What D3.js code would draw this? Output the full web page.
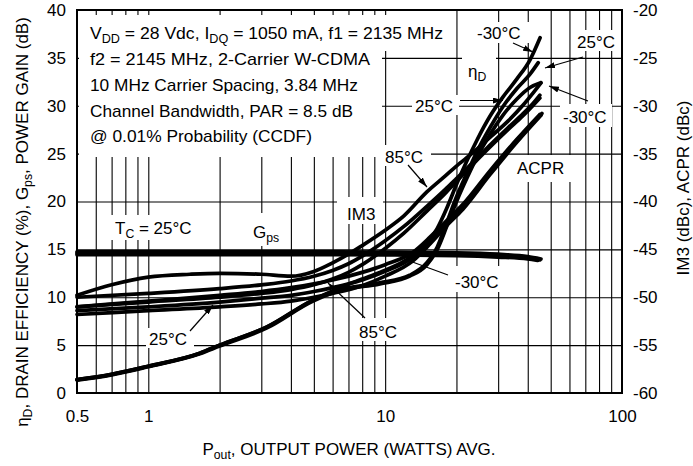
<!DOCTYPE html>
<html><head><meta charset="utf-8">
<script src="https://cdn.jsdelivr.net/npm/d3@7"></script>
<style>
html,body{margin:0;padding:0;background:#fff;}
svg{display:block;font-family:"Liberation Sans",Arial,Helvetica,sans-serif;}
</style></head><body>
<svg id="chart" width="693" height="466"></svg>
<script>
// ---------------- DATA ----------------
const xTickLabels = [0.5, 1, 10, 100];
const xGridValues = [0.6,0.7,0.8,0.9,1,2,3,4,5,6,7,8,9,10,20,30,40,50,60,70,80,90];
const leftTicks = [0,5,10,15,20,25,30,35,40];
const rightTicks = [-60,-55,-50,-45,-40,-35,-30,-25,-20];

// Power gain Gps (dB, left axis)
const gpsM30 = [[0.5,14.75],[1,14.75],[2,14.75],[5,14.75],[10,14.72],[20,14.65],[30,14.5],[40,14.25],[45.5,14.0]];
const gps25  = [[0.5,14.6],[1,14.6],[2,14.6],[5,14.6],[10,14.58],[20,14.5],[30,14.35],[40,14.1],[45,13.9]];
const gps85  = [[0.5,14.45],[1,14.45],[2,14.45],[5,14.45],[10,14.42],[20,14.35],[30,14.2],[40,14.0],[44,13.85]];

// Drain efficiency (%, left axis)
const etaM30 = [[0.5,1.4],[0.7,1.95],[1,2.8],[1.65,4.15],[2,5.0],[3.17,6.9],[4.96,9.7],[6.44,11.0],[8,11.9],[9.5,12.6],[12.3,13.9],[15,15.6],[16.6,17.2],[18.2,19.3],[20.1,21.9],[22.2,24.3],[24.4,26.4],[27.7,28.9],[31.4,30.9],[36,32.8],[40.9,34.8],[45.1,37.1]];
const eta25  = [[0.5,1.4],[0.7,1.95],[1,2.8],[1.65,4.15],[2,5.0],[3.17,6.9],[4.96,9.7],[6.44,10.8],[9.5,11.5],[12.7,12.3],[15,13.6],[16.6,15.25],[18.2,17.8],[20.1,20.6],[22.2,23.0],[24.4,25.2],[27.7,27.7],[31.4,29.9],[36,31.8],[40.9,33.3],[44.3,34.5]];
const eta85  = [[0.5,1.35],[0.7,1.9],[1,2.75],[1.65,4.1],[2,4.9],[3.17,6.8],[4.96,9.6],[6.44,10.7],[9.5,11.4],[12.7,12.2],[15,13.4],[16.6,15.0],[18.2,17.4],[20.1,20.1],[22.2,22.5],[24.4,24.6],[27.7,27.0],[31.4,29.0],[36,30.7],[40.9,31.9],[45.4,32.4]];

// IM3 (dBc, right axis)
const im3_85  = [[0.5,-49.8],[0.7,-48.7],[1,-47.9],[1.5,-47.6],[2,-47.5],[3,-47.6],[4,-47.8],[5,-47.3],[6,-46.4],[7,-45.5],[8,-44.6],[10,-43.0],[12,-41.5],[15,-39.0],[18,-37.3],[20,-36.3],[23.5,-34.9],[28,-33.2],[33,-31.6],[38,-30.0],[42,-28.7],[45.5,-27.6]];
const im3_25  = [[0.5,-50.0],[1,-49.6],[2,-49.1],[3,-48.7],[4,-48.3],[5,-47.8],[6,-47.2],[7,-46.5],[8,-45.7],[10,-44.1],[12,-42.6],[15,-40.5],[18,-38.7],[20,-37.6],[23.5,-35.9],[28,-34.0],[33,-32.3],[38,-30.9],[42,-29.8],[45,-28.9]];
const im3_m30 = [[0.5,-51.0],[1,-50.5],[2,-50.0],[3,-49.6],[4,-49.2],[5,-48.7],[6,-48.1],[7,-47.4],[8,-46.6],[10,-44.9],[12,-43.3],[15,-41.0],[18,-39.1],[20,-37.9],[23.5,-36.1],[28,-34.2],[33,-32.5],[38,-31.1],[42,-30.0],[45,-29.2]];

// ACPR (dBc, right axis)
const acpr85  = [[0.5,-51.0],[1,-50.4],[2,-49.8],[3,-49.4],[4,-49.0],[5,-48.6],[6,-48.2],[8,-47.4],[10,-46.6],[13.1,-45.3],[15.5,-43.7],[18.2,-42.0],[21.3,-40.3],[27.7,-36.8],[36,-33.5],[45,-30.9]];
const acpr25  = [[0.5,-51.4],[1,-51.0],[2,-50.5],[3,-50.1],[4,-49.8],[5,-49.4],[6,-49.0],[8,-48.2],[10,-47.3],[13.1,-45.8],[15.5,-44.0],[18.2,-42.2],[21.3,-40.6],[27.7,-37.0],[36,-33.6],[45.9,-30.8]];
const acprM30 = [[0.5,-51.8],[1,-51.4],[2,-51.0],[3,-50.7],[4,-50.4],[5,-50.0],[6,-49.6],[8,-48.8],[10,-47.8],[13.1,-46.2],[15.5,-44.4],[18.2,-42.5],[21.3,-40.8],[27.7,-37.2],[36,-33.8],[45.5,-31.0]];

const leftSeries  = [gpsM30, gps25, gps85, etaM30, eta25, eta85];
const rightSeries = [im3_85, im3_25, im3_m30, acpr85, acpr25, acprM30];

// ---------------- LAYOUT ----------------
const L = 77, R = 622, T = 10, B = 393;
const svg = d3.select("#chart");
svg.append("rect").attr("width",693).attr("height",466).attr("fill","#fff");

const x  = d3.scaleLog().domain([0.5,100]).range([L,R]);
const yL = d3.scaleLinear().domain([0,40]).range([B,T]);
const yR = d3.scaleLinear().domain([-60,-20]).range([B,T]);

// grid
svg.append("g").attr("transform",`translate(0,${B})`)
  .call(d3.axisBottom(x).tickValues(xGridValues).tickSize(-(B-T)).tickFormat(""))
  .call(g=>{g.select(".domain").remove(); g.selectAll("line").attr("stroke","#000").attr("stroke-width",1.1);});
svg.append("g").attr("transform",`translate(${L},0)`)
  .call(d3.axisLeft(yL).tickValues([5,10,15,20,25,30,35]).tickSize(-(R-L)).tickFormat(""))
  .call(g=>{g.select(".domain").remove(); g.selectAll("line").attr("stroke","#000").attr("stroke-width",1.1);});

// white label backgrounds (hide grid)
const masks = [
  [79,15,303,142],[382,15,68,36],
  [474,22,57,21],[574,30,47,21],[462,56,34,31],[412,95,47,20],[560,104,52,23],
  [382,145,49,21],[514,155,62,27],[337,197,46,27],[110,215,90,25],[250,213,36,33],
  [452,266,58,26],[356,318,48,23],[146,328,48,20]
];
svg.append("g").selectAll("rect").data(masks).join("rect")
  .attr("x",d=>d[0]).attr("y",d=>d[1]).attr("width",d=>d[2]).attr("height",d=>d[3]).attr("fill","#fff");

// frame
svg.append("rect").attr("x",L).attr("y",T).attr("width",R-L).attr("height",B-T)
  .attr("fill","none").attr("stroke","#000").attr("stroke-width",2);

// curves
const lineL = d3.line().x(d=>x(d[0])).y(d=>yL(d[1])).curve(d3.curveMonotoneX);
const lineR = d3.line().x(d=>x(d[0])).y(d=>yR(d[1])).curve(d3.curveMonotoneX);
const cg = svg.append("g").attr("fill","none").attr("stroke","#000").attr("stroke-width",3.7)
  .attr("stroke-linecap","round").attr("stroke-linejoin","round");
leftSeries.forEach(s=>cg.append("path").attr("d",lineL(s)));
rightSeries.forEach(s=>cg.append("path").attr("d",lineR(s)));

// text helper: parts = [[text, isSub]]
function label(g, xx, yy, parts, opts={}) {
  const t = g.append("text").attr("x",xx).attr("y",yy)
    .attr("font-size",opts.size||17).attr("fill","#000");
  if (opts.anchor) t.attr("text-anchor",opts.anchor);
  if (opts.transform) t.attr("transform",opts.transform);
  if (opts.len) t.attr("textLength",opts.len).attr("lengthAdjust","spacingAndGlyphs");
  let sub=false;
  parts.forEach(p=>{
    const ts = t.append("tspan").text(p[0]);
    if (p[1] && !sub) { ts.attr("dy",4).attr("font-size",(opts.size||17)*0.72); sub=true; }
    else if (!p[1] && sub) { ts.attr("dy",-4); sub=false; }
  });
  return t;
}
const tg = svg.append("g");
// annotation block
label(tg, 90, 38.5, [["V"],["DD",1],[" = 28 Vdc, I"],["DQ",1],[" = 1050 mA, f1 = 2135 MHz"]], {len:353});
label(tg, 90, 64.5, [["f2 = 2145 MHz, 2-Carrier W-CDMA"]], {len:280});
label(tg, 90, 90.5, [["10 MHz Carrier Spacing, 3.84 MHz"]], {len:268});
label(tg, 90, 117, [["Channel Bandwidth, PAR = 8.5 dB"]], {len:263});
label(tg, 90, 142, [["@ 0.01% Probability (CCDF)"]], {len:222});

// curve labels
label(tg, 477, 39, [["-30°C"]]);
label(tg, 577, 48, [["25°C"]]);
label(tg, 468, 77, [["η"],["D",1]]);
label(tg, 415, 112, [["25°C"]]);
label(tg, 563, 123, [["-30°C"]]);
label(tg, 385, 163, [["85°C"]]);
label(tg, 517, 174, [["ACPR"]]);
label(tg, 347, 220, [["IM3"]]);
label(tg, 115, 234, [["T"],["C",1],[" = 25°C"]]);
label(tg, 253, 238, [["G"],["ps",1]]);
label(tg, 455, 288, [["-30°C"]]);
label(tg, 359, 338, [["85°C"]]);
label(tg, 149, 345, [["25°C"]]);

// leaders & arrows
const defs = svg.append("defs");
defs.append("marker").attr("id","ah").attr("viewBox","0 0 10 6").attr("refX",10).attr("refY",3)
  .attr("markerWidth",10).attr("markerHeight",6).attr("markerUnits","userSpaceOnUse").attr("orient","auto")
  .append("path").attr("d","M0,0 L10,3 L0,6 Z").attr("fill","#000");
const leaders = [
  [513,43,533,52,true],[583,57,545,68,true],[588,101,549,86,true],[460,100.5,503,100.5,true],
  [408,165,427,187,true],[448,275,407,260,false],[365,318,328,283,true],[190,331,213,305,true]
];
leaders.forEach(l=>{
  const ln = svg.append("line").attr("x1",l[0]).attr("y1",l[1]).attr("x2",l[2]).attr("y2",l[3])
    .attr("stroke","#000").attr("stroke-width",1.2);
  if (l[4]) ln.attr("marker-end","url(#ah)");
});

// axes labels
svg.append("g").attr("transform",`translate(${L},0)`)
  .call(d3.axisLeft(yL).tickValues(leftTicks).tickSize(0).tickPadding(11).tickFormat(d3.format("d")))
  .call(g=>{g.select(".domain").remove(); g.selectAll("text").attr("font-size",17).attr("font-family",null).attr("fill","#000");});
svg.append("g").attr("transform",`translate(${R},0)`)
  .call(d3.axisRight(yR).tickValues(rightTicks).tickSize(0).tickPadding(11).tickFormat(d=>d<0?"-"+Math.abs(d):d))
  .call(g=>{g.select(".domain").remove(); g.selectAll("text").attr("font-size",17).attr("font-family",null).attr("fill","#000");});
svg.append("g").attr("transform",`translate(0,${B})`)
  .call(d3.axisBottom(x).tickValues(xTickLabels).tickSize(0).tickPadding(17).tickFormat(d=>String(d)))
  .call(g=>{g.select(".domain").remove(); g.selectAll("text").attr("font-size",17).attr("font-family",null).attr("fill","#000");});

label(tg, 349, 455, [["P"],["out",1],[", OUTPUT POWER (WATTS) AVG."]], {anchor:"middle"});
label(tg, 0, 0, [["η"],["D",1],[", DRAIN EFFICIENCY (%), G"],["ps",1],[", POWER GAIN (dB)"]],
  {anchor:"middle", transform:"translate(28,222) rotate(-90)"});
label(tg, 0, 0, [["IM3 (dBc), ACPR (dBc)"]], {anchor:"middle", transform:"translate(689,188) rotate(-90)"});
</script>
</body></html>
